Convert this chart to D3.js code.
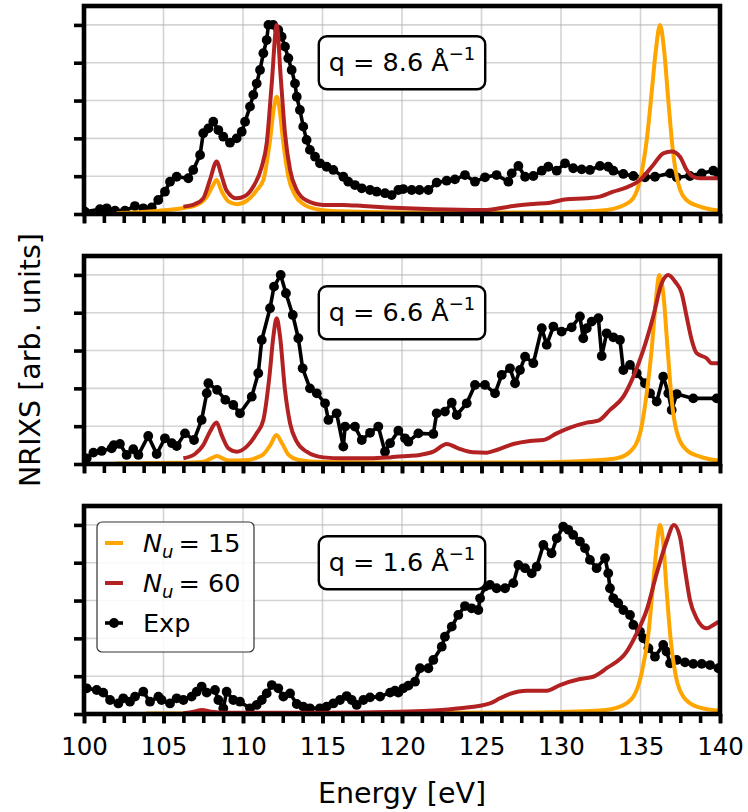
<!DOCTYPE html>
<html>
<head>
<meta charset="utf-8">
<script src="https://cdn.jsdelivr.net/npm/d3@7"></script>
<style>
body { margin: 0; background: #fff; }
text { font-family: "DejaVu Sans", sans-serif; fill: #000; }
</style>
</head>
<body>
<div id="chart"></div>
<script>
// energy axis, tick values
const xMajor = [100, 105, 110, 115, 120, 125, 130, 135, 140];
const xMinor = d3.range(100, 140.01, 1.25);
const yTicks = [0, 0.2, 0.4, 0.6, 0.8, 1.0];
const qValues = ["8.6", "6.6", "1.6"];
const legendNames = ["15", "60", "Exp"];

// q = 8.6
const exp86 = [[100.06,0.012],[101.0,0.025],[101.43,0.03],[101.95,0.018],[102.58,0.018],[103.2,0.042],[103.73,0.03],[104.26,0.035],[104.67,0.074],[105.09,0.118],[105.41,0.171],[105.83,0.197],[106.56,0.189],[106.87,0.233],[107.3,0.312],[107.5,0.427],[107.82,0.453],[108.13,0.488],[108.45,0.444],[108.76,0.409],[109.18,0.377],[109.6,0.40],[109.92,0.435],[110.13,0.488],[110.44,0.568],[110.65,0.63],[110.86,0.69],[111.07,0.762],[111.28,0.85],[111.49,0.92],[111.6,1.0],[111.9,1.0],[112.22,0.973],[112.43,0.938],[112.64,0.885],[112.85,0.824],[113.06,0.762],[113.27,0.69],[113.38,0.62],[113.58,0.55],[113.79,0.462],[114.0,0.392],[114.21,0.339],[114.53,0.303],[114.84,0.268],[115.26,0.25],[115.68,0.233],[116.31,0.197],[116.62,0.171],[117.04,0.153],[117.47,0.136],[117.99,0.127],[118.41,0.118],[118.93,0.11],[119.35,0.10],[119.77,0.127],[120.08,0.132],[120.61,0.127],[121.1,0.127],[121.66,0.127],[122.18,0.166],[122.81,0.176],[123.33,0.183],[123.96,0.206],[124.59,0.171],[125.22,0.194],[125.95,0.206],[126.69,0.171],[126.9,0.215],[127.32,0.254],[127.74,0.197],[128.26,0.201],[128.79,0.229],[129.2,0.25],[129.73,0.229],[130.25,0.268],[130.77,0.242],[131.3,0.236],[131.82,0.233],[132.45,0.254],[132.97,0.25],[133.29,0.229],[133.92,0.212],[134.55,0.201],[135.28,0.194],[135.91,0.197],[136.86,0.215],[137.28,0.194],[138.11,0.201],[138.85,0.215],[139.58,0.229],[139.9,0.215]];
const n15q86 = [[102.05,0.005],[104.36,0.015],[105.41,0.022],[106.35,0.033],[107.09,0.048],[107.72,0.09],[108.1,0.15],[108.34,0.18],[108.66,0.12],[109.08,0.067],[109.6,0.052],[110.23,0.07],[110.86,0.125],[111.28,0.18],[111.7,0.39],[111.95,0.565],[112.12,0.62],[112.28,0.565],[112.54,0.374],[112.85,0.198],[113.27,0.1],[113.79,0.053],[114.64,0.025],[115.89,0.014],[120,0.008],[128,0.008],[131,0.012],[132.87,0.021],[134.34,0.065],[134.97,0.18],[135.39,0.39],[135.7,0.64],[135.97,0.87],[136.23,1.0],[136.48,0.87],[136.75,0.6],[137.03,0.34],[137.38,0.16],[137.9,0.074],[138.74,0.039],[139.9,0.018]];
const n60q86 = [[106.25,0.039],[106.98,0.053],[107.5,0.083],[107.92,0.18],[108.34,0.277],[108.66,0.2],[108.97,0.124],[109.6,0.083],[110.13,0.095],[110.65,0.145],[111.18,0.25],[111.49,0.374],[111.81,0.692],[112.12,1.0],[112.37,0.727],[112.64,0.427],[112.96,0.233],[113.38,0.127],[114.0,0.071],[115.05,0.048],[116.31,0.048],[117.57,0.042],[119.04,0.035],[120.3,0.03],[122,0.025],[125.11,0.021],[125.74,0.025],[127.0,0.042],[128.26,0.053],[129.31,0.06],[130.36,0.078],[131.62,0.083],[132.45,0.092],[133.29,0.118],[134.13,0.141],[134.97,0.18],[135.8,0.259],[136.43,0.321],[136.96,0.33],[137.48,0.303],[137.9,0.233],[138.32,0.197],[138.74,0.189],[139.9,0.189]];

// q = 6.6
const exp66 = [[100.17,0.03],[100.59,0.06],[101.11,0.069],[101.74,0.083],[101.87,0.1],[102.26,0.106],[102.68,0.048],[103.1,0.078],[103.42,0.048],[104.04,0.148],[104.57,0.053],[105.09,0.136],[105.53,0.11],[105.83,0.095],[106.35,0.162],[106.92,0.127],[107.4,0.233],[107.72,0.374],[107.82,0.427],[108.37,0.392],[108.89,0.339],[109.39,0.312],[109.81,0.268],[110.55,0.356],[110.96,0.48],[111.18,0.656],[111.7,0.824],[111.95,0.938],[112.37,1.0],[112.7,0.903],[113.13,0.788],[113.48,0.665],[113.75,0.506],[114.21,0.4],[114.64,0.374],[115.16,0.321],[115.37,0.233],[115.89,0.268],[116.31,0.092],[116.42,0.198],[117.04,0.198],[117.47,0.127],[117.99,0.165],[118.51,0.198],[118.93,0.065],[119.25,0.11],[119.77,0.176],[120.19,0.136],[120.4,0.118],[121.03,0.162],[121.97,0.159],[122.18,0.268],[122.7,0.277],[123.13,0.324],[123.44,0.259],[124.07,0.321],[124.59,0.418],[125.22,0.418],[125.85,0.374],[126.27,0.471],[126.79,0.506],[127.11,0.427],[127.42,0.497],[127.74,0.568],[128.26,0.533],[128.79,0.718],[129.1,0.63],[129.52,0.727],[130.04,0.7],[130.67,0.723],[131.19,0.78],[131.4,0.665],[131.62,0.718],[131.93,0.753],[132.35,0.771],[132.56,0.571],[132.87,0.691],[133.29,0.67],[133.71,0.656],[133.92,0.497],[134.34,0.524],[134.76,0.48],[135.28,0.427],[135.6,0.374],[136.02,0.33],[136.43,0.462],[136.75,0.374],[136.96,0.286],[137.28,0.37],[138.32,0.347],[139.79,0.347]];
const n15q66 = [[102.05,0.003],[106,0.006],[107.5,0.012],[108.0,0.03],[108.36,0.042],[108.7,0.03],[109.1,0.018],[110.36,0.021],[110.9,0.035],[111.3,0.053],[111.72,0.1],[112.1,0.153],[112.45,0.11],[112.87,0.048],[113.5,0.021],[114.97,0.01],[120,0.006],[128,0.008],[132.45,0.021],[133.5,0.03],[134.34,0.065],[134.97,0.162],[135.39,0.374],[135.7,0.603],[135.97,0.868],[136.18,1.0],[136.43,0.903],[136.71,0.603],[136.96,0.339],[137.28,0.171],[137.9,0.074],[138.74,0.039],[139.9,0.018]];
const n60q66 = [[106.25,0.03],[106.98,0.053],[107.5,0.1],[107.92,0.171],[108.34,0.219],[108.66,0.153],[109.08,0.083],[109.6,0.065],[110.23,0.092],[110.86,0.162],[111.28,0.233],[111.66,0.462],[111.91,0.674],[112.12,0.771],[112.33,0.674],[112.64,0.392],[112.96,0.215],[113.38,0.118],[114.0,0.065],[115.05,0.035],[116.31,0.03],[117.99,0.03],[119.25,0.035],[120.3,0.042],[121.13,0.048],[121.97,0.065],[122.81,0.106],[123.54,0.083],[124.48,0.062],[125.33,0.06],[125.95,0.074],[127.0,0.106],[128.05,0.122],[128.89,0.127],[129.73,0.162],[130.57,0.192],[131.62,0.219],[132.35,0.229],[133.08,0.286],[133.92,0.356],[134.55,0.462],[135.18,0.603],[135.8,0.78],[136.33,0.956],[136.75,1.0],[137.17,0.965],[137.59,0.903],[137.9,0.78],[138.22,0.656],[138.53,0.586],[139.16,0.559],[139.48,0.533],[139.9,0.533]];

// q = 1.6
const exp16 = [[100.17,0.136],[100.8,0.127],[101.21,0.113],[101.64,0.074],[102.16,0.056],[102.47,0.083],[102.89,0.065],[103.21,0.092],[103.73,0.118],[104.15,0.065],[104.68,0.092],[104.88,0.074],[105.41,0.056],[105.83,0.083],[106.25,0.074],[106.77,0.092],[107.09,0.118],[107.4,0.145],[107.72,0.113],[108.24,0.127],[108.45,0.074],[108.76,0.03],[108.97,0.118],[109.39,0.074],[109.81,0.065],[110.44,0.03],[110.86,0.048],[111.18,0.074],[111.49,0.109],[111.81,0.153],[112.22,0.136],[112.54,0.092],[112.96,0.109],[113.38,0.053],[113.79,0.039],[114.21,0.03],[114.84,0.03],[115.26,0.039],[115.68,0.056],[116.1,0.074],[116.52,0.095],[116.84,0.074],[117.15,0.048],[117.57,0.074],[117.99,0.088],[118.62,0.092],[119.25,0.113],[119.56,0.123],[119.77,0.113],[120.08,0.136],[120.4,0.15],[120.82,0.171],[121.13,0.242],[121.66,0.242],[121.97,0.286],[122.5,0.356],[122.7,0.409],[123.13,0.462],[123.54,0.524],[123.96,0.571],[124.38,0.559],[124.8,0.55],[124.91,0.612],[125.22,0.674],[125.53,0.683],[125.95,0.665],[126.48,0.665],[127.0,0.692],[127.32,0.788],[127.74,0.771],[128.16,0.744],[128.47,0.779],[128.89,0.894],[129.41,0.85],[129.73,0.929],[130.14,0.991],[130.46,0.974],[130.77,0.947],[131.19,0.912],[131.51,0.877],[131.82,0.815],[132.24,0.771],[132.77,0.824],[132.97,0.744],[133.08,0.665],[133.29,0.612],[133.6,0.586],[133.92,0.55],[134.34,0.524],[134.55,0.471],[134.97,0.435],[135.18,0.4],[135.5,0.348],[135.91,0.303],[136.43,0.365],[136.64,0.33],[136.86,0.268],[137.28,0.286],[137.8,0.273],[138.32,0.265],[138.85,0.265],[139.37,0.259],[139.9,0.242]];
const n15q16 = [[103.9,0.003],[110,0.004],[120,0.005],[128,0.008],[132.45,0.018],[133.71,0.039],[134.55,0.092],[135.07,0.215],[135.5,0.427],[135.8,0.692],[136.06,0.92],[136.23,1.0],[136.43,0.903],[136.64,0.656],[136.9,0.392],[137.23,0.197],[137.69,0.092],[138.53,0.039],[139.9,0.018]];
const n60q16 = [[106.25,0.004],[106.9,0.012],[107.42,0.021],[108.0,0.012],[109,0.006],[115,0.006],[119.87,0.012],[121.97,0.018],[123.65,0.03],[125.53,0.056],[126.16,0.083],[126.79,0.106],[127.84,0.123],[129.1,0.123],[129.94,0.153],[131.19,0.185],[132.03,0.197],[132.87,0.242],[134.13,0.33],[134.76,0.427],[135.39,0.55],[136.02,0.744],[136.64,0.912],[137.1,1.0],[137.48,0.938],[137.8,0.762],[138.11,0.603],[138.53,0.506],[139.16,0.453],[139.58,0.471],[139.9,0.488]];

const ORANGE = "#ffa500", RED = "#b22222";

class Panel {
    // option: svg, top, q, exp, n15, n60, legend, labels
    constructor(option) {
        for (let [key, value] of Object.entries(option)) {
            this[key] = value;
        }
        this.left = 84;
        this.right = 720;
        this.h = 208;
        this.x = d3.scaleLinear().domain([100, 140]).range([this.left, this.right]);
        this.y = d3.scaleLinear().domain([0, 1.1]).range([this.top + this.h, this.top]);
        this.g = this.svg.append("g");
        this.creatGrid();
        this.creatLines();
        this.creatAxes();
        this.creatNote();
        if (this.legend) this.creatLegend();
    }
    creatGrid() {
        let x = this.x, y = this.y;
        let grid = this.g.append("g").attr("stroke", "#b0b0b0").attr("stroke-opacity", 0.55).attr("stroke-width", 1.6);
        grid.selectAll(".gx").data(xMajor).enter().append("line")
            .attr("x1", d => x(d)).attr("x2", d => x(d))
            .attr("y1", this.top).attr("y2", this.top + this.h);
        grid.selectAll(".gy").data(yTicks).enter().append("line")
            .attr("x1", this.left).attr("x2", this.right)
            .attr("y1", d => y(d)).attr("y2", d => y(d));
    }
    creatLines() {
        let x = this.x, y = this.y;
        let id = "clip" + this.top;
        this.svg.append("clipPath").attr("id", id).append("rect")
            .attr("x", this.left).attr("y", this.top).attr("width", this.right - this.left).attr("height", this.h);
        let body = this.g.append("g").attr("clip-path", `url(#${id})`);
        let lin = d3.line().x(d => x(d[0])).y(d => y(d[1]));
        let smooth = d3.line().x(d => x(d[0])).y(d => y(d[1])).curve(d3.curveMonotoneX);
        body.append("path").attr("d", lin(this.exp)).attr("fill", "none")
            .attr("stroke", "#000").attr("stroke-width", 3.6).attr("stroke-linejoin", "round");
        body.selectAll("circle").data(this.exp).enter().append("circle")
            .attr("cx", d => x(d[0])).attr("cy", d => y(d[1])).attr("r", 4.9).attr("fill", "#000");
        body.append("path").attr("d", smooth(this.n15)).attr("fill", "none")
            .attr("stroke", ORANGE).attr("stroke-width", 4).attr("stroke-linejoin", "round");
        body.append("path").attr("d", smooth(this.n60)).attr("fill", "none")
            .attr("stroke", RED).attr("stroke-width", 4).attr("stroke-linejoin", "round");
    }
    creatAxes() {
        let x = this.x, y = this.y;
        let bottom = this.top + this.h;
        let yAxis = d3.axisLeft(y).tickValues(yTicks).tickFormat("").tickSize(10);
        let ya = this.g.append("g").attr("transform", `translate(${this.left},0)`).call(yAxis);
        let xMinAxis = d3.axisBottom(x).tickValues(xMinor).tickFormat("").tickSize(9);
        let xa = this.g.append("g").attr("transform", `translate(0,${bottom})`).call(xMinAxis);
        let xMajAxis = d3.axisBottom(x).tickValues(xMajor).tickSize(9.5)
            .tickFormat(this.labels ? d3.format("d") : "").tickPadding(14);
        let xb = this.g.append("g").attr("transform", `translate(0,${bottom})`).call(xMajAxis);
        [ya, xa, xb].forEach(a => {
            a.select(".domain").remove();
            a.selectAll("line").attr("stroke", "#000").attr("stroke-width", 3.6);
        });
        xb.selectAll("text").attr("font-size", "24.5px").attr("font-family", "DejaVu Sans");
        this.g.append("rect").attr("x", this.left).attr("y", this.top)
            .attr("width", this.right - this.left).attr("height", this.h)
            .attr("fill", "none").attr("stroke", "#000").attr("stroke-width", 4.6);
    }
    creatNote() {
        let cx = this.x(120), cy = this.y(0.8);
        let box = this.g.append("rect");
        let t = this.g.append("text").attr("x", cx).attr("y", cy + 8.5)
            .attr("text-anchor", "middle").style("font-size", "25.5px");
        t.append("tspan").text(`q = ${this.q} Å`);
        t.append("tspan").attr("dy", -11).style("font-size", "18px").text("−1");
        let b = t.node().getBBox();
        box.attr("x", b.x - 10).attr("y", cy - 26.5).attr("width", b.width + 20).attr("height", 53)
            .attr("rx", 8).attr("fill", "#fff").attr("stroke", "#000").attr("stroke-width", 2.4);
    }
    creatLegend() {
        let lg = this.g.append("g");
        lg.append("rect").attr("x", 97).attr("y", 522).attr("width", 157).attr("height", 130)
            .attr("rx", 5).attr("fill", "#fff").attr("fill-opacity", 0.85)
            .attr("stroke", "#333").attr("stroke-width", 1.2);
        let rows = [543, 583, 623];
        let colors = [ORANGE, RED, "#000"];
        legendNames.forEach((name, i) => {
            lg.append("line").attr("x1", 105).attr("x2", 123).attr("y1", rows[i]).attr("y2", rows[i])
                .attr("stroke", colors[i]).attr("stroke-width", i < 2 ? 4 : 3.6);
            let t = lg.append("text").attr("x", 143).attr("y", rows[i] + 9).style("font-size", "25.5px");
            if (i < 2) {
                t.append("tspan").style("font-style", "italic").text("N");
                t.append("tspan").style("font-style", "italic").style("font-size", "18px").attr("dy", 6).text("u");
                t.append("tspan").attr("dy", -6).attr("dx", 5).text("= " + name);
            } else {
                lg.append("circle").attr("cx", 114).attr("cy", rows[i]).attr("r", 4.9).attr("fill", "#000");
                t.text(name);
            }
        });
    }
}

const svg = d3.select("#chart").append("svg").attr("width", 748).attr("height", 812);

new Panel({ svg: svg, top: 6, q: qValues[0], exp: exp86, n15: n15q86, n60: n60q86, legend: false, labels: false });
new Panel({ svg: svg, top: 256, q: qValues[1], exp: exp66, n15: n15q66, n60: n60q66, legend: false, labels: false });
new Panel({ svg: svg, top: 506, q: qValues[2], exp: exp16, n15: n15q16, n60: n60q16, legend: true, labels: true });

svg.append("text").attr("x", 402).attr("y", 803).attr("text-anchor", "middle")
    .style("font-size", "28.5px").text("Energy [eV]");
svg.append("text").attr("transform", "translate(40,360) rotate(-90)").attr("text-anchor", "middle")
    .style("font-size", "28.5px").text("NRIXS [arb. units]");
</script>
</body>
</html>
